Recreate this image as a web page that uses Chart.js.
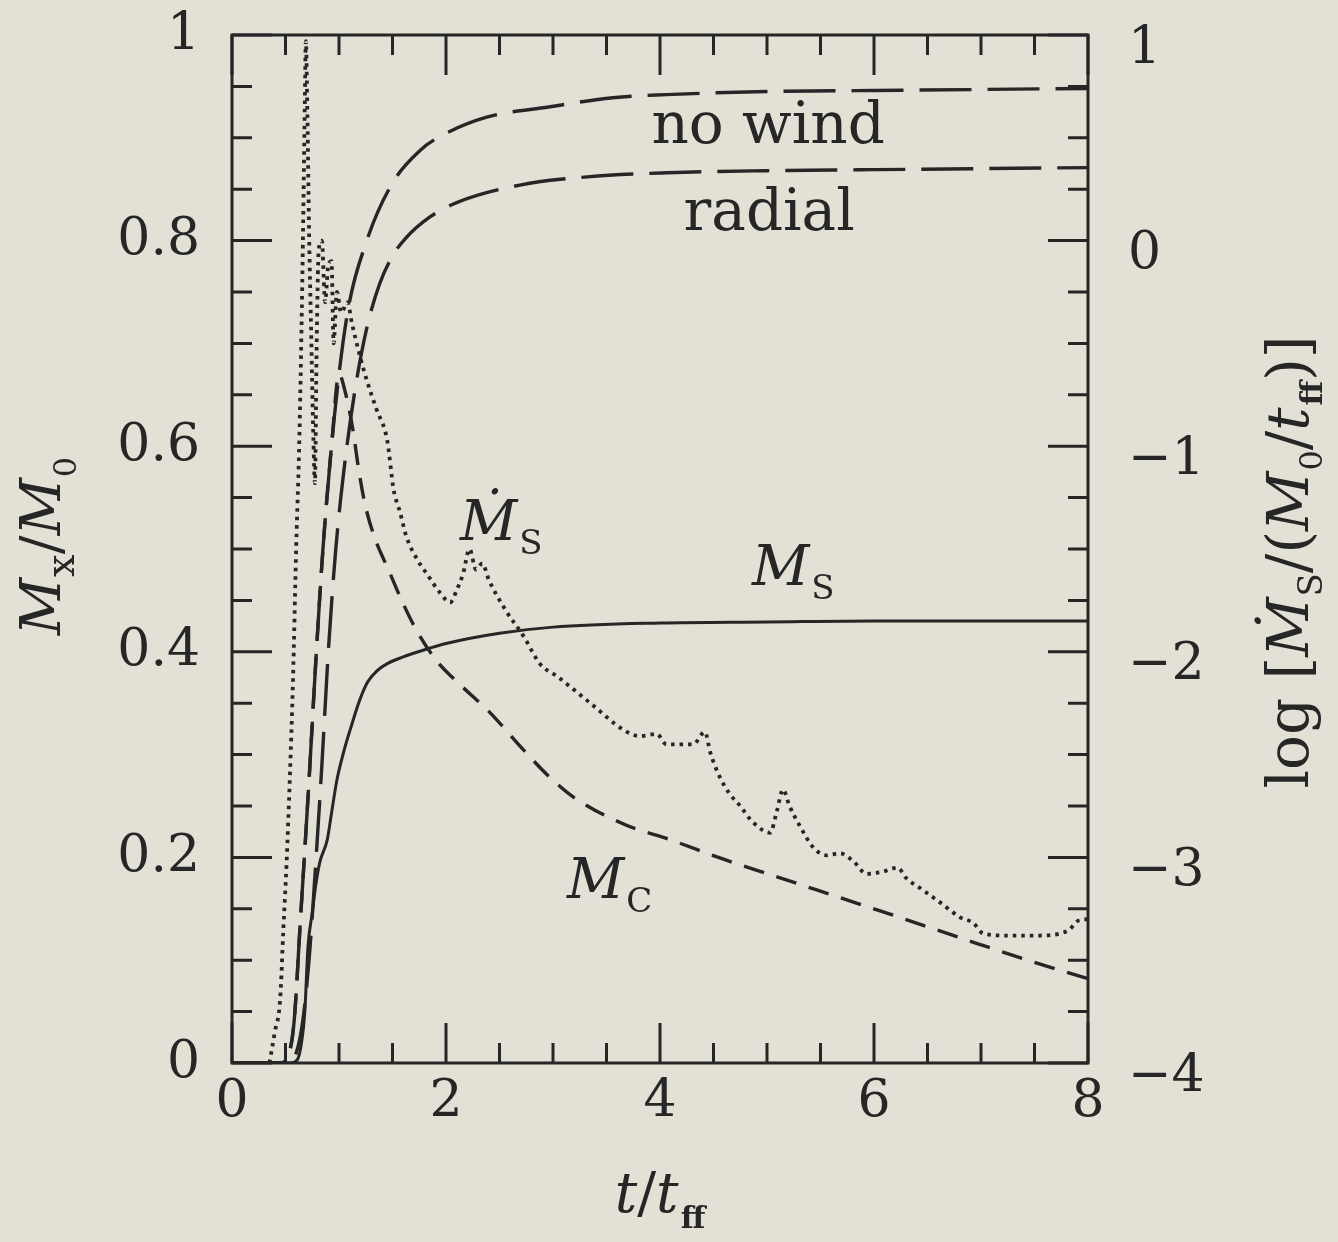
<!DOCTYPE html>
<html>
<head>
<meta charset="utf-8">
<script src="https://cdn.jsdelivr.net/npm/chart.js@4.4.1/dist/chart.umd.min.js"></script>
<style>
  html, body { margin: 0; padding: 0; background: #e3e0d6; }
  #wrap { width: 1338px; height: 1242px; position: relative; }
</style>
</head>
<body>
<div id="wrap"><canvas id="massChart"></canvas></div>
<script>
// time axis ticks (t / t_ff)
const xTicks = [0, 2, 4, 6, 8];

// "no wind" (long dashes, left axis)
const tNoWind = [0, 0.45, 0.52, 0.58, 0.64, 0.72, 0.78, 0.85, 0.96, 1.08, 1.26, 1.5, 1.76, 1.94, 2.38, 2.96, 3.56, 4.06, 5, 6, 7, 8];
const mNoWind = [0, 0, 0.006, 0.04, 0.14, 0.275, 0.385, 0.50, 0.632, 0.73, 0.80, 0.856, 0.888, 0.901, 0.92, 0.93, 0.939, 0.942, 0.945, 0.946, 0.947, 0.948];

// "radial" (long dashes, left axis)
const tRadial = [0, 0.5, 0.6, 0.66, 0.72, 0.78, 0.84, 0.9, 0.97, 1.05, 1.15, 1.26, 1.38, 1.5, 1.62, 1.85, 2.1, 2.69, 3.32, 4.07, 5, 6, 7, 8];
const mRadial = [0, 0, 0.01, 0.04, 0.10, 0.19, 0.29, 0.40, 0.50, 0.58, 0.655, 0.715, 0.758, 0.785, 0.802, 0.823, 0.837, 0.854, 0.862, 0.866, 0.868, 0.869, 0.870, 0.871];

// M_c, core mass (short dashes, left axis)
const tCore = [0, 0.45, 0.52, 0.58, 0.64, 0.72, 0.78, 0.85, 0.93, 1.0, 1.06, 1.13, 1.18, 1.24, 1.33, 1.47, 1.59, 1.74, 1.93, 2.09, 2.4, 2.72, 2.95, 3.2, 3.67, 4.1, 4.6, 5.3, 6.2, 7.0, 7.5, 8];
const mCore = [0, 0, 0.006, 0.04, 0.14, 0.275, 0.385, 0.50, 0.60, 0.67, 0.652, 0.616, 0.58, 0.545, 0.512, 0.478, 0.449, 0.418, 0.389, 0.372, 0.342, 0.305, 0.28, 0.258, 0.232, 0.217, 0.198, 0.174, 0.143, 0.115, 0.098, 0.082];

// M_s, star mass (solid, left axis)
const tStar = [0, 0.55, 0.61, 0.65, 0.68, 0.71, 0.75, 0.78, 0.82, 0.89, 0.93, 0.98, 1.05, 1.11, 1.19, 1.27, 1.36, 1.46, 1.6, 1.8, 2.0, 2.5, 3.0, 4.0, 5, 6, 7, 8];
const mStar = [0, 0, 0.003, 0.02, 0.049, 0.113, 0.146, 0.171, 0.195, 0.217, 0.243, 0.275, 0.305, 0.326, 0.352, 0.371, 0.382, 0.389, 0.395, 0.402, 0.408, 0.418, 0.424, 0.428, 0.429, 0.43, 0.43, 0.43];

// log accretion rate (dotted, right axis)
const tRate = [0.35, 0.40, 0.45, 0.48, 0.51, 0.54, 0.57, 0.60, 0.63, 0.66, 0.68, 0.69, 0.705, 0.72, 0.74, 0.76, 0.775, 0.79, 0.81, 0.84, 0.87, 0.90, 0.93, 0.95, 0.98, 1.02, 1.08, 1.12, 1.19, 1.26, 1.35, 1.45, 1.51, 1.57, 1.63, 1.73, 1.82, 1.94, 2.04, 2.10, 2.16, 2.22, 2.28, 2.34, 2.40, 2.56, 2.72, 2.88, 3.04, 3.35, 3.66, 3.81, 3.97, 4.06, 4.31, 4.42, 4.47, 4.56, 4.65, 4.75, 4.87, 5.03, 5.09, 5.15, 5.21, 5.31, 5.43, 5.56, 5.68, 5.81, 5.93, 6.08, 6.22, 6.30, 6.46, 6.62, 6.80, 6.93, 7.02, 7.24, 7.55, 7.74, 7.83, 7.90, 8.0];
const logRate = [-4.0, -3.85, -3.69, -3.35, -3.03, -2.62, -2.14, -1.49, -0.95, -0.10, 0.65, 0.97, 0.60, 0.05, -0.45, -0.95, -1.18, -0.55, -0.05, 0.0, -0.30, -0.12, -0.10, -0.50, -0.25, -0.35, -0.30, -0.40, -0.55, -0.68, -0.82, -0.97, -1.21, -1.32, -1.44, -1.55, -1.62, -1.71, -1.76, -1.70, -1.62, -1.50, -1.60, -1.57, -1.65, -1.80, -1.92, -2.06, -2.12, -2.25, -2.38, -2.41, -2.40, -2.45, -2.45, -2.39, -2.49, -2.61, -2.69, -2.75, -2.83, -2.88, -2.78, -2.67, -2.75, -2.85, -2.95, -2.99, -2.98, -3.02, -3.08, -3.07, -3.05, -3.10, -3.16, -3.22, -3.29, -3.32, -3.37, -3.38, -3.38, -3.37, -3.35, -3.31, -3.30];

const SERIF = '"DejaVu Serif", "Liberation Serif", serif';
const INK = '#262626';
const PAPER = '#e3e0d6';

function pts(xs, ys) {
    return xs.map((x, i) => ({ x: x, y: ys[i] }));
}

function drawRich(ctx, parts, x, y, align, rot) {
    ctx.save();
    ctx.translate(x, y);
    if (rot) ctx.rotate(rot);
    let w = 0;
    parts.forEach(p => { ctx.font = p.f; w += ctx.measureText(p.s).width + (p.k || 0); });
    let cx = align === 'center' ? -w / 2 : 0;
    ctx.textAlign = 'left';
    ctx.textBaseline = 'alphabetic';
    ctx.fillStyle = INK;
    parts.forEach(p => {
        ctx.font = p.f;
        ctx.fillText(p.s, cx, p.dy || 0);
        cx += ctx.measureText(p.s).width + (p.k || 0);
    });
    ctx.restore();
}

const F_TXT = '58px ' + SERIF;
const F_IT = 'italic 56px ' + SERIF;
const F_SUB = '34px ' + SERIF;
const F_UP = '56px ' + SERIF;

// text labels in data coordinates (t, left-axis value)
const notes = [
    { t: 5.01, v: 0.895, align: 'center', parts: [{ s: 'no wind', f: F_TXT }] },
    { t: 5.02, v: 0.81, align: 'center', parts: [{ s: 'radial', f: F_TXT }] },
    { t: 2.13, v: 0.509, align: 'left', parts: [{ s: 'Ṁ', f: F_IT, k: 2 }, { s: 'S', f: F_SUB, dy: 14 }] },
    { t: 4.86, v: 0.465, align: 'left', parts: [{ s: 'M', f: F_IT, k: 2 }, { s: 'S', f: F_SUB, dy: 14 }] },
    { t: 3.13, v: 0.1605, align: 'left', parts: [{ s: 'M', f: F_IT, k: 2 }, { s: 'C', f: F_SUB, dy: 14 }] }
];

const decor = {
    id: 'decor',
    beforeDraw(chart) {
        const ctx = chart.ctx;
        ctx.save();
        ctx.fillStyle = PAPER;
        ctx.fillRect(0, 0, chart.width, chart.height);
        ctx.restore();
    },
    afterDraw(chart) {
        const ctx = chart.ctx;
        const a = chart.chartArea;
        const sx = chart.scales.x, sy = chart.scales.y, sr = chart.scales.y2;
        ctx.save();
        ctx.strokeStyle = INK;
        ctx.lineWidth = 3;
        ctx.strokeRect(a.left, a.top, a.right - a.left, a.bottom - a.top);

        // inward ticks
        ctx.lineWidth = 3;
        ctx.beginPath();
        for (let i = 0; i <= 16; i++) {
            const px = sx.getPixelForValue(i * 0.5);
            const len = (i % 4 === 0) ? 40 : 20;
            ctx.moveTo(px, a.bottom); ctx.lineTo(px, a.bottom - len);
            ctx.moveTo(px, a.top); ctx.lineTo(px, a.top + len);
        }
        for (let i = 0; i <= 20; i++) {
            const py = sy.getPixelForValue(i * 0.05);
            const len = (i % 4 === 0) ? 40 : 20;
            ctx.moveTo(a.left, py); ctx.lineTo(a.left + len, py);
        }
        for (let i = 0; i <= 20; i++) {
            const py = sr.getPixelForValue(-4 + i * 0.25);
            const len = (i % 4 === 0) ? 40 : 20;
            ctx.moveTo(a.right, py); ctx.lineTo(a.right - len, py);
        }
        ctx.stroke();
        ctx.restore();

        notes.forEach(n => {
            drawRich(ctx, n.parts, sx.getPixelForValue(n.t), sy.getPixelForValue(n.v), n.align, 0);
        });

        // axis titles
        drawRich(ctx, [
            { s: 'M', f: F_IT, k: 1 }, { s: 'x', f: '40px ' + SERIF, dy: 14 },
            { s: '/', f: F_UP }, { s: 'M', f: F_IT, k: 1 }, { s: '0', f: '32px ' + SERIF, dy: 16 }
        ], 60, 546, 'center', -Math.PI / 2);

        drawRich(ctx, [
            { s: 't', f: F_IT }, { s: '/', f: F_UP }, { s: 't', f: F_IT, k: 2 },
            { s: 'ff', f: 'bold 30px ' + SERIF, dy: 16 }
        ], 660, 1212, 'center', 0);

        drawRich(ctx, [
            { s: 'log [', f: '58px ' + SERIF }, { s: 'Ṁ', f: 'italic 58px ' + SERIF, k: 1 }, { s: 'S', f: '34px ' + SERIF, dy: 14 },
            { s: '/(', f: '58px ' + SERIF }, { s: 'M', f: 'italic 58px ' + SERIF, k: 1 }, { s: '0', f: '32px ' + SERIF, dy: 14 },
            { s: '/', f: '58px ' + SERIF }, { s: 't', f: 'italic 58px ' + SERIF, k: 2 }, { s: 'ff', f: 'bold 30px ' + SERIF, dy: 14 },
            { s: ')]', f: '58px ' + SERIF }
        ], 1308, 562, 'center', -Math.PI / 2);
    }
};

const line = (label, xs, ys, axis, dash, width) => ({
    label: label,
    data: pts(xs, ys),
    yAxisID: axis,
    borderColor: INK,
    borderWidth: width,
    borderDash: dash,
    borderCapStyle: 'butt',
    pointRadius: 0,
    fill: false,
    cubicInterpolationMode: 'monotone'
});

// drop Chart.js' automatic room for edge labels so the plot frame sits where the original has it
const noEdgePad = s => { s.paddingTop = 0; s.paddingBottom = 0; s.paddingLeft = 0; s.paddingRight = 0; };

const massChart = new Chart(document.getElementById('massChart').getContext('2d'), {
    type: 'line',
    data: {
        datasets: [
            line('no wind', tNoWind, mNoWind, 'y', [52, 16], 3.4),
            line('radial', tRadial, mRadial, 'y', [52, 16], 3.4),
            line('M_c', tCore, mCore, 'y', [21, 13], 3.4),
            line('M_s', tStar, mStar, 'y', [], 3),
            line('log dM_s/dt', tRate, logRate, 'y2', [3.5, 5], 3.8)
        ]
    },
    options: {
        responsive: true,
        maintainAspectRatio: false,
        animation: false,
        layout: { padding: { top: 35, left: 0, right: 0, bottom: 0 } },
        plugins: {
            legend: { display: false },
            tooltip: { enabled: false }
        },
        scales: {
            x: {
                type: 'linear',
                min: 0,
                max: 8,
                afterBuildTicks: s => { s.ticks = xTicks.map(v => ({ value: v })); },
                afterFit: s => { s.height = 179; noEdgePad(s); },
                grid: { display: false, drawTicks: false },
                border: { display: false },
                ticks: { color: INK, font: { family: SERIF, size: 52 }, padding: 8, maxRotation: 0 }
            },
            y: {
                position: 'left',
                min: 0,
                max: 1,
                afterFit: s => { s.width = 232; noEdgePad(s); },
                grid: { display: false, drawTicks: false },
                border: { display: false },
                ticks: {
                    stepSize: 0.2,
                    color: INK,
                    font: { family: SERIF, size: 52 },
                    padding: 32,
                    callback: v => String(+v.toFixed(1))
                }
            },
            y2: {
                position: 'right',
                min: -4,
                max: 1,
                afterFit: s => { s.width = 250; noEdgePad(s); },
                grid: { display: false, drawTicks: false },
                border: { display: false },
                ticks: {
                    stepSize: 1,
                    color: INK,
                    font: { family: SERIF, size: 52 },
                    padding: 40,
                    labelOffset: 14,
                    callback: v => v < 0 ? '\u2212' + Math.abs(v) : String(v)
                }
            }
        }
    },
    plugins: [decor]
});
</script>
</body>
</html>
